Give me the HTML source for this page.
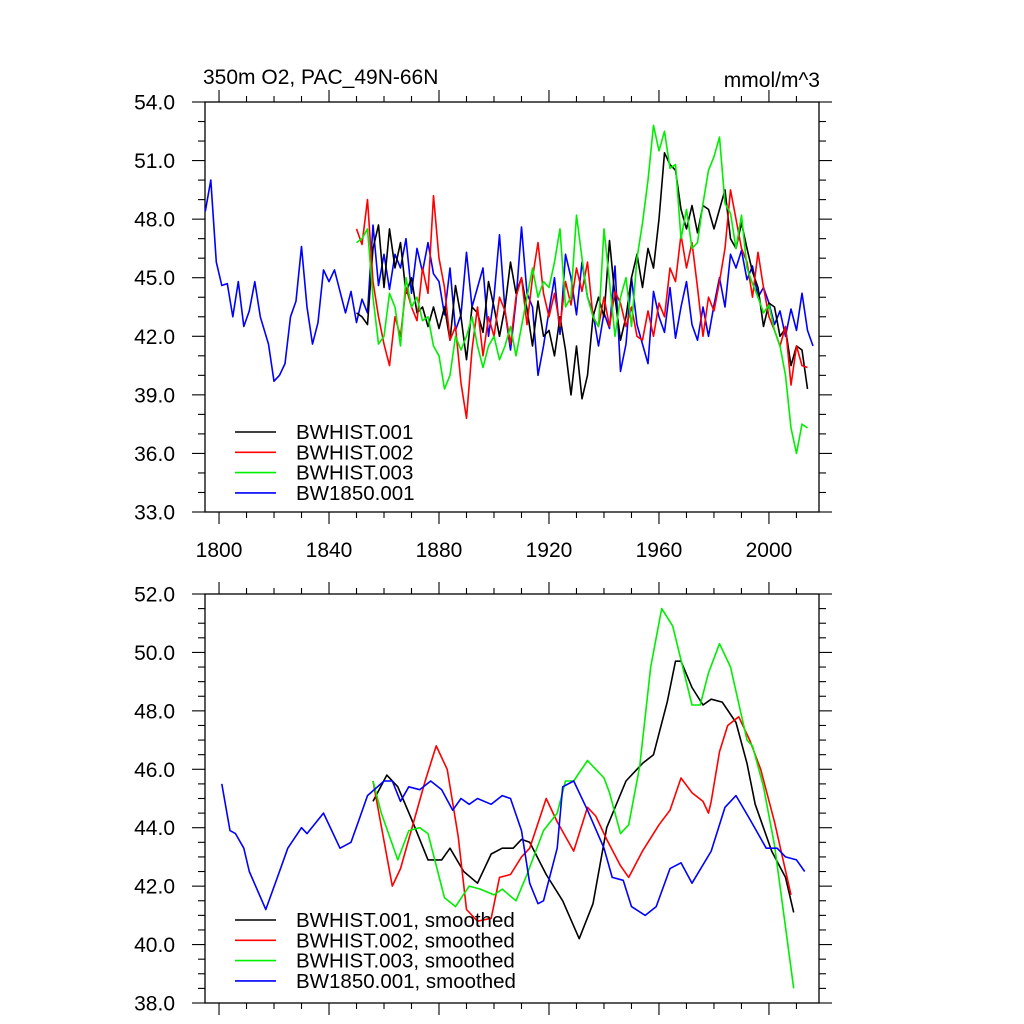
<!DOCTYPE html>
<html><head><meta charset="utf-8"><style>
body{margin:0;background:#fff}
svg{display:block;font-family:"Liberation Sans",sans-serif}
</style></head><body>
<svg id="chart" width="1024" height="1024" viewBox="0 0 1024 1024" xmlns="http://www.w3.org/2000/svg">
<text x="203" y="84" font-size="21">350m O2, PAC_49N-66N</text>
<text x="820" y="87" font-size="21" text-anchor="end">mmol/m^3</text>
<g id="top"></g>
<g id="bot"></g>
</svg>
<script>
const blueYears=[1795,1797,1799,1801,1803,1805,1807,1809,1811,1813,1815,1818,1820,1822,1824,1826,1828,1830,1832,1834,1836,1838,1840,1842,1844,1846,1848,1850,1852,1854,1856,1858,1860,1862,1864,1866,1868,1870,1872,1874,1876,1878,1880,1882,1884,1886,1888,1890,1892,1894,1896,1898,1900,1902,1904,1906,1908,1910,1912,1914,1916,1918,1920,1922,1924,1926,1928,1930,1932,1934,1936,1938,1940,1942,1944,1946,1948,1950,1952,1954,1956,1958,1960,1962,1964,1966,1968,1970,1972,1974,1976,1978,1980,1982,1984,1986,1988,1990,1992,1994,1996,1998,2000,2002,2004,2006,2008,2010,2012,2014,2016];
const blueVals=[48.4,50,45.8,44.6,44.7,43,44.8,42.5,43.3,44.8,43,41.6,39.7,40.0,40.6,43,43.8,46.6,43.5,41.6,42.7,45.4,44.8,45.4,44.3,43.2,44.3,42.7,43.9,43.2,47.7,44.6,46.2,44.4,46.2,45.5,47,44.2,46.5,45.3,46.8,45.2,44.8,43.1,45.5,42.3,43.1,46.3,43.5,44.5,45.5,42.0,44.0,47.2,43.3,41.3,43.8,47.6,44.2,43.5,40.0,41.5,43.3,45.0,42.1,46.2,45.0,43.1,45.8,44.0,43.2,41.5,43.2,42.4,45.6,40.2,41.6,45.0,42.6,41.6,40.6,44.3,43.0,42.2,44.5,41.9,43.5,44.8,42.6,41.8,43.5,42.0,43.6,45.0,43.5,46.2,45.5,46.4,44.9,45.6,44.0,44.5,43.7,42.6,43.3,42.0,43.4,42.3,44.2,42.3,41.5];
const histYears=[1850,1852,1854,1856,1858,1860,1862,1864,1866,1868,1870,1872,1874,1876,1878,1880,1882,1884,1886,1888,1890,1892,1894,1896,1898,1900,1902,1904,1906,1908,1910,1912,1914,1916,1918,1920,1922,1924,1926,1928,1930,1932,1934,1936,1938,1940,1942,1944,1946,1948,1950,1952,1954,1956,1958,1960,1962,1964,1966,1968,1970,1972,1974,1976,1978,1980,1982,1984,1986,1988,1990,1992,1994,1996,1998,2000,2002,2004,2006,2008,2010,2012,2014];
const blackVals=[43.2,43,42.6,46.5,47.7,44.5,47.5,45.5,46.8,44.2,45.0,43.2,43.5,42.5,43.5,42.4,43.5,41.8,44.6,43.0,40.8,43.5,43.2,42.2,44.8,43.5,42.0,43.5,45.8,44.2,45.0,43.4,41.5,43.8,42.0,42.3,41.0,43.0,41.3,39.0,41.5,38.8,40.0,43.0,44.0,43.0,46.9,44.0,41.8,43.0,45.0,46.2,44.5,46.5,45.5,48.0,51.4,50.8,50.5,48.5,47.5,48.7,47.3,48.7,48.5,47.5,48.5,49.5,47.0,46.5,47.8,46.5,45.3,44.5,42.5,43.7,43.5,42.0,42.4,40.5,41.5,41.3,39.3];
const redVals=[47.5,46.7,49,44.8,43.0,41.6,40.5,43.0,42.0,44.5,43.5,42.8,45.5,44.2,49.2,46.0,44.5,41.8,42.5,39.6,37.8,41.3,43.5,41.0,43.0,42.0,44.0,43.3,41.6,44.0,45.0,42.6,45.0,46.8,44.2,43.0,44.2,42.5,44.8,43.6,45.5,44.3,45.8,43.0,42.5,44.0,42.5,44.3,43.7,42.5,43.5,42.0,41.8,43.3,42.0,43.7,43.0,45.5,44.8,47.2,45.5,46.8,44.5,42.0,44.0,43.3,44.8,46.5,49.5,48.0,46.5,45.8,44.0,46.3,44.5,43.0,42.3,41.5,42.5,39.5,41.5,40.5,40.4];
const greenVals=[46.8,47.0,47.5,44.0,41.6,42.0,44.2,43.5,41.5,45.0,43.5,44.0,42.8,43.0,41.5,41.0,39.3,40.0,42.0,41.3,42.0,43.0,41.5,40.4,41.5,42.0,40.8,41.5,42.5,41.0,42.5,44.0,45.5,44.0,44.8,44.5,45.8,47.5,43.5,44.0,48.2,46.0,44.0,43.0,42.5,47.5,44.8,42.0,44.0,45.0,42.5,46.0,47.8,50.0,52.8,51.5,52.5,50.6,50.8,47.0,48.5,46.5,46.8,48.8,50.5,51.2,52.2,48.8,48.3,46.5,48.2,45.5,44.7,44.0,43.2,43.6,42.3,41.5,40.0,37.3,36.0,37.5,37.3];
const sBlueYears=[1801,1804,1806,1809,1811,1817,1822,1825,1830,1832,1838,1844,1848,1851,1854,1860,1863,1866,1869,1873,1877,1881,1885,1888,1891,1894,1899,1903,1906,1910,1913,1916,1918,1923,1925,1929,1934,1940,1943,1947,1950,1955,1959,1964,1968,1972,1979,1984,1988,1993,1996,1999,2003,2006,2010,2013];
const sBlueVals=[45.5,43.9,43.8,43.3,42.5,41.2,42.5,43.3,44.0,43.8,44.5,43.3,43.5,44.3,45.1,45.6,45.6,44.9,45.4,45.3,45.6,45.3,44.6,45.0,44.8,45.0,44.8,45.1,45.0,43.9,42.1,41.4,41.5,43.3,45.4,45.6,44.6,43.3,42.3,42.2,41.3,41.0,41.3,42.6,42.8,42.1,43.2,44.7,45.1,44.3,43.8,43.3,43.3,43.0,42.9,42.5];
const sBlackYears=[1856,1861,1865,1870,1876,1881,1884,1889,1894,1899,1903,1907,1910,1913,1919,1925,1931,1936,1941,1948,1954,1958,1963,1966,1968,1972,1976,1979,1983,1988,1992,1995,2001,2006,2009];
const sBlackVals=[44.9,45.8,45.4,44.3,42.9,42.9,43.3,42.5,42.1,43.1,43.3,43.3,43.6,43.5,42.4,41.5,40.2,41.4,44.0,45.6,46.2,46.5,48.3,49.7,49.7,48.8,48.2,48.4,48.3,47.6,46.2,44.8,43.2,42.3,41.1];
const sRedYears=[1856,1863,1866,1875,1879,1883,1887,1890,1894,1899,1902,1906,1910,1913,1919,1923,1929,1934,1937,1941,1946,1949,1954,1960,1964,1968,1972,1976,1978,1979,1982,1985,1989,1993,1997,2002,2008];
const sRedVals=[45.6,42.0,42.6,45.6,46.8,46.0,43.7,41.2,40.8,40.9,42.3,42.4,43.0,43.3,45.0,44.2,43.2,44.7,44.4,43.6,42.7,42.3,43.2,44.1,44.6,45.7,45.2,44.9,44.5,44.9,46.6,47.5,47.8,47.0,46.0,44.2,41.7];
const sGreenYears=[1856,1859,1865,1869,1873,1876,1882,1886,1891,1895,1900,1903,1908,1912,1918,1923,1926,1929,1934,1940,1942,1946,1949,1953,1957,1961,1965,1972,1975,1978,1982,1986,1992,1994,1998,2002,2006,2009];
const sGreenVals=[45.6,44.5,42.9,43.9,44.0,43.8,41.6,41.3,42.0,41.9,41.7,41.9,41.5,42.4,43.9,44.5,45.6,45.6,46.3,45.7,45.2,43.8,44.1,46.1,49.5,51.5,50.9,48.2,48.2,49.3,50.3,49.5,47.0,46.8,45.4,43.4,40.6,38.5];
const topYTicks=[33,36,39,42,45,48,51,54];
const botYTicks=[38,40,42,44,46,48,50,52];
const xTicks=[1800,1840,1880,1920,1960,2000];

const NS="http://www.w3.org/2000/svg";
const L=205,R=819,X0=1794.9,X1=2018.2;
const xs=y=>L+(y-X0)/(X1-X0)*(R-L);
function mk(tag,attrs,parent){const e=document.createElementNS(NS,tag);for(const k in attrs)e.setAttribute(k,attrs[k]);parent.appendChild(e);return e;}
function panel(g,top,bot,ymin,ymax,yticks,minorStep,series,legend,legY,showXLabels){
  const ys=v=>bot-(v-ymin)/(ymax-ymin)*(bot-top);
  for(let v=ymin;v<=ymax+1e-6;v+=minorStep){const y=ys(v);const major=yticks.some(t=>Math.abs(t-v)<1e-6);const len=major?13:7;
    mk('line',{x1:L-len,x2:L,y1:y,y2:y,stroke:'#000','stroke-width':1.1},g);mk('line',{x1:R,x2:R+len,y1:y,y2:y,stroke:'#000','stroke-width':1.1},g);}
  yticks.forEach(t=>{const tx=mk('text',{x:175,y:ys(t)+7.5,'font-size':21,'text-anchor':'end'},g);tx.textContent=t.toFixed(1);
    
    });
  for(let yr=1800;yr<=2010;yr+=10){const x=xs(yr);const major=(yr-1800)%40===0;const len=major?12:6;
    mk('line',{x1:x,x2:x,y1:bot,y2:bot+len,stroke:'#000','stroke-width':1.1},g);mk('line',{x1:x,x2:x,y1:top,y2:top-len,stroke:'#000','stroke-width':1.1},g);}
  if(showXLabels)xTicks.forEach(t=>{const tx=mk('text',{x:xs(t),y:bot+45,'font-size':21,'text-anchor':'middle'},g);tx.textContent=t;
    
    });
  const f=mk('rect',{x:L,y:top,width:R-L,height:bot-top,fill:'none',stroke:'#000','stroke-width':1.3},g);
  
  
  series.forEach((s,i)=>{const d=s.years.map((yr,j)=>(j?'L':'M')+xs(yr).toFixed(1)+' '+ys(s.vals[j]).toFixed(1)).join('');
    const p=mk('path',{d:d,fill:'none',stroke:s.color,'stroke-width':1.6,'stroke-linejoin':'round'},g);
    
    });
  legend.forEach((it,i)=>{const ly=legY+i*20.3;
    const ll=mk('line',{x1:235,x2:276,y1:ly,y2:ly,stroke:it[1],'stroke-width':1.6},g);
    
    
    const lt=mk('text',{x:296,y:ly+7,'font-size':20.5},g);lt.textContent=it[0];
    
    });
}
panel(document.getElementById('top'),102,512,33,54,topYTicks,1,[
 {id:'bw1850',years:blueYears,vals:blueVals,color:'#0000ff'},
 {id:'bwhist001',years:histYears,vals:blackVals,color:'#000000'},
 {id:'bwhist002',years:histYears,vals:redVals,color:'#ff0000'},
 {id:'bwhist003',years:histYears,vals:greenVals,color:'#00ee00'}
],[["BWHIST.001","#000"],["BWHIST.002","#f00"],["BWHIST.003","#00ee00"],["BW1850.001","#00f"]],432,true);
panel(document.getElementById('bot'),594,1003,38,52,botYTicks,0.5,[
 {id:'bwhist001-smoothed',years:sBlackYears,vals:sBlackVals,color:'#000000'},
 {id:'bwhist002-smoothed',years:sRedYears,vals:sRedVals,color:'#ff0000'},
 {id:'bwhist003-smoothed',years:sGreenYears,vals:sGreenVals,color:'#00ee00'},
 {id:'bw1850-smoothed',years:sBlueYears,vals:sBlueVals,color:'#0000ff'}
],[["BWHIST.001, smoothed","#000"],["BWHIST.002, smoothed","#f00"],["BWHIST.003, smoothed","#00ee00"],["BW1850.001, smoothed","#00f"]],920,false);
</script>
</body></html>
